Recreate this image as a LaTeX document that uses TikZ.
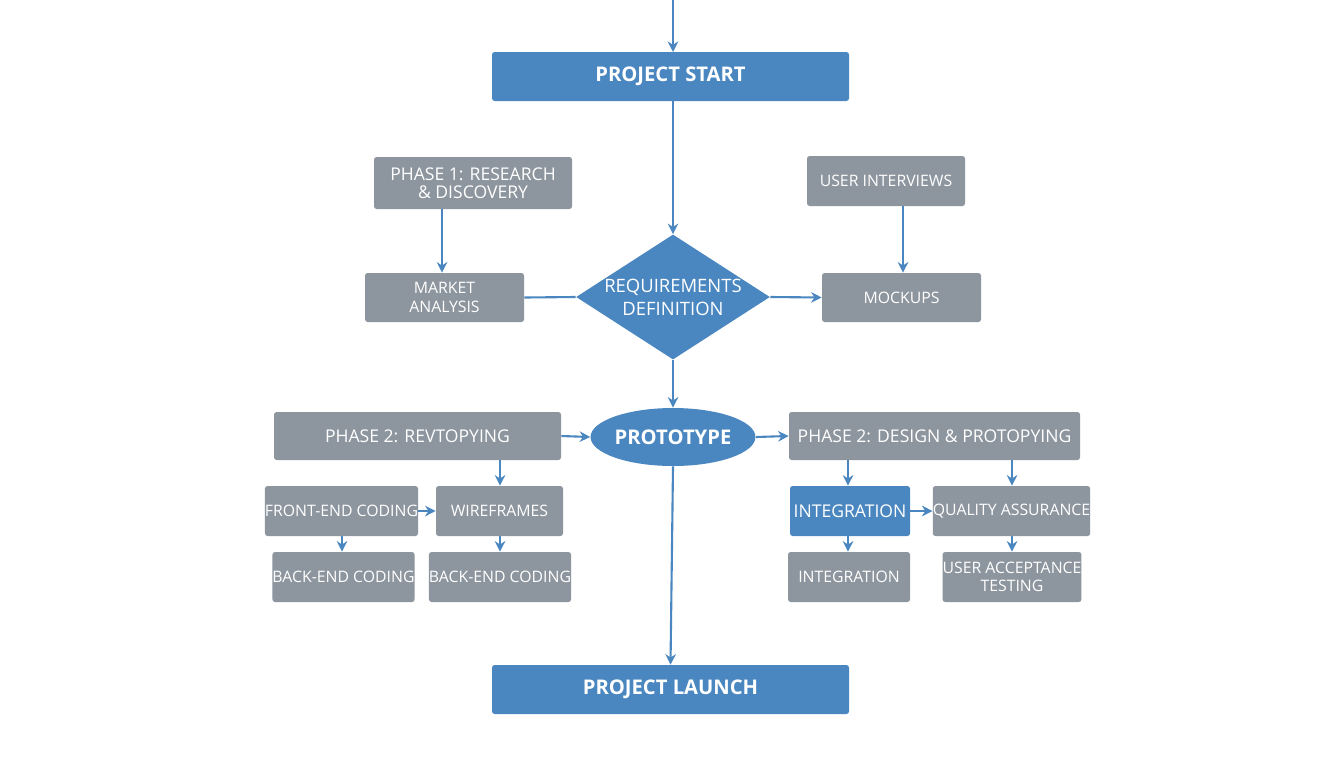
\documentclass[tikz,border=0pt]{standalone}
\usepackage{fontspec}
\setmainfont{Open Sans}
\usetikzlibrary{shapes.geometric,arrows.meta}
\definecolor{bl}{HTML}{4A87C0}
\definecolor{gr}{HTML}{8D959E}
\begin{document}
\begin{tikzpicture}[x=0.02cm,y=-0.02cm,
 box/.style={draw=none,rounded corners=1.5pt,text=white,align=center,font=\fontsize{9}{10.5}\selectfont,inner sep=0pt},
 gbox/.style={box,fill=gr},
 bbox/.style={box,fill=bl},
 arr/.style={draw=bl,line width=1.2pt,-{Stealth[length=6pt,width=6pt]}},
 ln/.style={draw=bl,line width=1.2pt}]
\useasboundingbox[fill=white] (0,0) rectangle (1344,768);
\newcommand{\bx}[7]{\node[#1,minimum width=#4*0.02cm-#2*0.02cm,minimum height=#5*0.02cm-#3*0.02cm] (#6) at ({(#2+#4)/2},{(#3+#5)/2}) {#7};}
\bx{bbox}{492}{52}{849}{101}{ps}{\fontsize{11.5}{13}\selectfont\bfseries PROJECT START}
\bx{gbox}{374}{157}{572}{209}{p1}{\fontsize{10}{12}\selectfont PHASE 1: RESEARCH\\\fontsize{10}{12}\selectfont \& DISCOVERY}
\bx{gbox}{807}{156}{965}{206}{ui}{USER INTERVIEWS}
\bx{gbox}{365}{273}{524}{322}{ma}{MARKET\\ANALYSIS}
\bx{gbox}{822}{273}{981}{322}{mo}{MOCKUPS}
\node[diamond,fill=bl,text=white,minimum width=186*0.02cm,minimum height=120*0.02cm,inner sep=0pt,aspect=1.55,align=center,font=\fontsize{10.5}{13}\selectfont] (rd) at (673,297) {REQUIREMENTS\\DEFINITION};
\node[ellipse,fill=bl,text=white,minimum width=150*0.02cm,minimum height=58*0.02cm,inner sep=0pt,font=\fontsize{11.5}{13}\selectfont\bfseries] (pr) at (673,437) {PROTOTYPE};
\bx{gbox}{274}{412}{561}{460}{pl}{\fontsize{10}{12}\selectfont PHASE 2: REVTOPYING}
\bx{gbox}{789}{412}{1080}{460}{pr2}{\fontsize{10}{12}\selectfont PHASE 2: DESIGN \& PROTOPYING}
\bx{gbox}{274}{486}{409}{536}{fe}{FRONT-END CODING}
\bx{gbox}{436}{486}{563}{536}{wf}{WIREFRAMES}
\bx{gbox}{277}{552}{410}{602}{be1}{BACK-END CODING}
\bx{gbox}{437}{552}{563}{602}{be2}{BACK-END CODING}
\bx{bbox}{790}{486}{910}{536}{ib}{\fontsize{10}{12}\selectfont INTEGRATION}
\bx{gbox}{944}{486}{1079}{536}{qa}{QUALITY ASSURANCE}
\bx{gbox}{788}{552}{910}{602}{ig}{INTEGRATION}
\bx{gbox}{945}{552}{1079}{602}{ua}{USER ACCEPTANCE\\TESTING}
\bx{bbox}{492}{665}{849}{714}{pla}{\fontsize{11.5}{13}\selectfont\bfseries PROJECT LAUNCH}
\coordinate (top) at (673,0);
\draw[arr] (top) -- (673,52);
\draw[arr] (673,101) -- (rd.north);
\draw[arr] (p1.south -| 442,0) -- (ma.north -| 442,0);
\draw[arr] (ui.south -| 903,0) -- (mo.north -| 903,0);
\draw[ln] (ma.east) -- (rd.west);
\draw[arr] (rd.east) -- (mo.west);
\draw[arr] (rd.south) -- (pr.north);
\draw[arr] (pl.east) -- (pr.west);
\draw[arr] (pr.east) -- (pr2.west);
\draw[arr] (pl.south -| 500,0) -- (wf.north -| 500,0);
\draw[arr] (fe.east) -- (wf.west);
\draw[arr] (fe.south -| 342,0) -- (be1.north -| 342,0);
\draw[arr] (wf.south -| 500,0) -- (be2.north -| 500,0);
\draw[arr] (pr2.south -| 848,0) -- (ib.north -| 848,0);
\draw[arr] (pr2.south -| 1012,0) -- (qa.north -| 1012,0);
\draw[arr] (ib.east) -- (qa.west);
\draw[arr] (ib.south -| 848,0) -- (ig.north -| 848,0);
\draw[arr] (qa.south -| 1012,0) -- (ua.north -| 1012,0);
\draw[arr] (pr.south) -- (pla.north);
\end{tikzpicture}
\end{document}
